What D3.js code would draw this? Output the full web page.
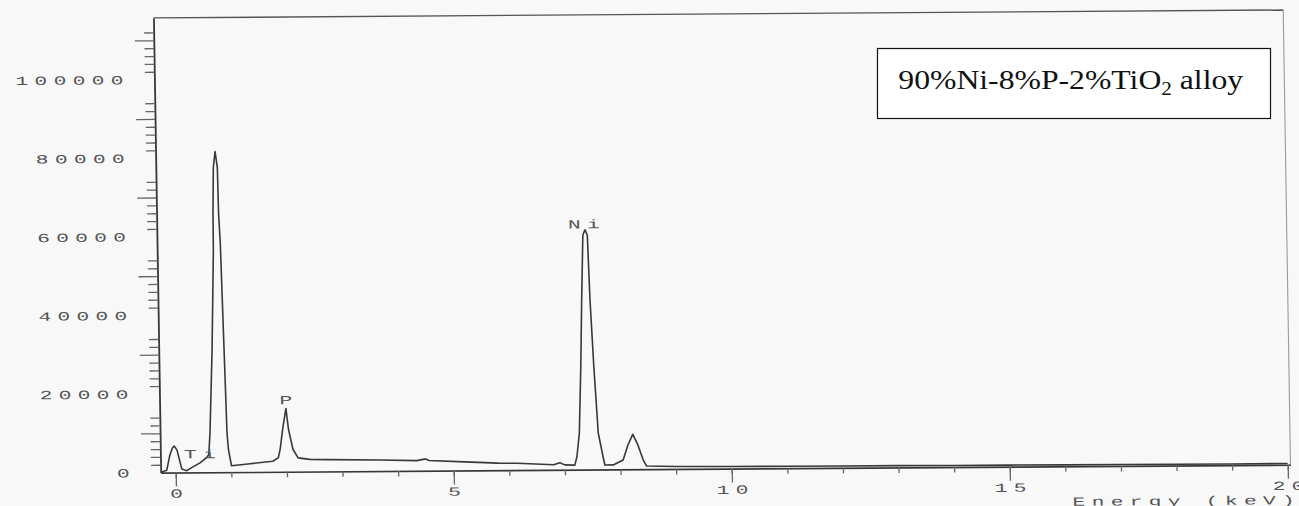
<!DOCTYPE html>
<html>
<head>
<meta charset="utf-8">
<script src="https://cdn.jsdelivr.net/npm/d3@7"></script>
<style>
  html, body { margin: 0; padding: 0; background: #f8f8f8; }
  svg { display: block; }
</style>
</head>
<body>
<svg id="chart" width="1299" height="506"></svg>
<script>
// EDS spectrum of the 90%Ni-8%P-2%TiO2 deposit
const energyKeV = [-0.27, -0.16, -0.10, -0.05, -0.02, 0.03, 0.08, 0.11, 0.20, 0.31, 0.44, 0.56, 0.60,
  0.628, 0.689, 0.741, 0.745, 0.764, 0.80, 0.836, 0.845, 0.868, 0.905, 0.934, 0.955, 1.006,
  1.34, 1.75, 1.85, 1.885, 1.935, 2.00, 2.04, 2.115, 2.205, 2.415, 2.775, 3.67, 4.34, 4.45, 4.50, 4.56,
  5.2, 5.8, 6.14, 6.8, 6.91, 7.0, 7.18, 7.22, 7.27, 7.315, 7.35, 7.39, 7.43, 7.47, 7.50, 7.55, 7.61,
  7.69, 7.72, 7.87, 8.05, 8.14, 8.23, 8.32, 8.41, 8.47, 9, 10, 11, 12, 13, 14, 15, 16, 17, 18, 19, 20];
const counts = [0, 600, 4450, 6300, 6750, 5700, 2700, 900, 450, 1400, 2400, 3700, 4500,
  10000, 31000, 56500, 66000, 77500, 81600, 77500, 66000, 58000, 31000, 10000, 5700, 1600,
  2100, 2700, 3600, 5700, 10800, 16100, 10800, 5700, 3500, 3100, 3000, 2800, 2600, 2900, 3000, 2600,
  2200, 1800, 1750, 1300, 1800, 1250, 1170, 3300, 9300, 26100, 43150, 59700, 61000, 59700, 43150, 26100, 9300,
  3250, 1150, 1150, 2400, 6200, 8900, 6200, 2400, 800, 650, 550, 500, 450, 450, 400, 400, 350, 350, 300, 300, 300];

const peakLabels = ["Ti", "P", "Ni"];
const peakLabelKeV = [0.437, 2.0, 7.41];
const peakLabelCounts = [4600, 18170, 62400];

const xTickLabels = [0, 5, 10, 15, 20];
const xMinorTicks = d3.range(0, 21, 1);
const yTickLabels = [0, 20000, 40000, 60000, 80000, 100000];
const yLongTicks = [10000, 30000, 50000, 70000, 90000, 110000];
const yShortTicks = d3.range(2000, 113000, 2000)
  .filter(v => ![0, 10000, 16000, 18000].includes(v % 20000));

const axisTitle = "Energy (keV)";
const legendMain = "90%Ni-8%P-2%TiO";
const legendSub = "2";
const legendTail = " alloy";

// ---- layout ----
const W = 1299, H = 506;
const svg = d3.select("#chart");
svg.append("rect").attr("width", W).attr("height", H).attr("fill", "#f8f8f8");

const xMin = -0.27, xMax = 20.05, yMax = 115700;
const pxPerKeV = 55.6;
const x = d3.scaleLinear().domain([xMin, xMax]).range([160.7, 160.7 + (xMax - xMin) * pxPerKeV]);
const y = d3.scaleLinear().domain([0, yMax]).range([472.5, 472.5 - yMax * 0.00393]);

// the printed plot sits slightly skewed on the page
const shearX = 0.016, shearY = -0.007;
const plot = svg.append("g")
  .attr("transform", `matrix(1,${shearY},${shearX},1,${-shearX * y(0)},${-shearY * x(0)})`);

const ink = "#383838";
const tickInk = "#666";
const textInk = "#555";
const stretch = 1.7, spacing = 3.7, fontSize = 12.5;

function styleType(sel) {
  sel.attr("font-family", "'Liberation Mono', 'DejaVu Sans Mono', monospace")
    .attr("font-size", fontSize)
    .attr("letter-spacing", spacing)
    .attr("fill", textInk);
}

// frame: top and right edges
plot.append("path")
  .attr("d", d3.line()([[x(xMin), y(yMax)], [x(xMax), y(yMax)]]))
  .attr("stroke", "#555").attr("stroke-width", 1.4).attr("fill", "none");
plot.append("path")
  .attr("d", d3.line()([[x(xMax), y(yMax)], [x(xMax), y(0)]]))
  .attr("stroke", "#9a9a9a").attr("stroke-width", 1.1).attr("fill", "none");

// y axis: short ticks, long ticks, labels
const yAxisG = plot.append("g").attr("transform", `translate(${x(xMin)},0)`);
yAxisG.append("g")
  .call(d3.axisLeft(y).tickValues(yShortTicks).tickSize(9.5).tickSizeOuter(0).tickFormat(""))
  .call(g => g.select(".domain").attr("stroke", ink).attr("stroke-width", 1.8))
  .call(g => g.selectAll(".tick line").attr("stroke", tickInk).attr("stroke-width", 1.3));
yAxisG.append("g")
  .call(d3.axisLeft(y).tickValues(yLongTicks).tickSize(19).tickFormat(""))
  .call(g => g.select(".domain").remove())
  .call(g => g.selectAll(".tick line").attr("stroke", tickInk).attr("stroke-width", 1.3));
yAxisG.append("g")
  .call(d3.axisLeft(y).tickValues(yTickLabels).tickSize(0).tickFormat(d3.format("d")))
  .call(g => g.select(".domain").remove())
  .call(g => g.selectAll(".tick text")
    .call(styleType)
    .attr("text-anchor", "end")
    .attr("x", -31 / stretch + spacing)
    .attr("transform", `scale(${stretch},1)`));

// x axis: minor ticks, major ticks, labels
const xAxisG = plot.append("g").attr("transform", `translate(0,${y(0)})`);
xAxisG.append("g")
  .call(d3.axisBottom(x).tickValues(xMinorTicks).tickSize(5.5).tickSizeOuter(0).tickFormat(""))
  .call(g => g.select(".domain").attr("stroke", ink).attr("stroke-width", 1.6))
  .call(g => g.selectAll(".tick line").attr("stroke", tickInk).attr("stroke-width", 1.3));
xAxisG.append("g")
  .call(d3.axisBottom(x).tickValues(xTickLabels).tickSize(14).tickPadding(3).tickFormat(d3.format("d")))
  .call(g => g.select(".domain").remove())
  .call(g => g.selectAll(".tick line").attr("stroke", tickInk).attr("stroke-width", 1.3))
  .call(g => g.selectAll(".tick text")
    .call(styleType)
    .attr("y", 25.2).attr("dy", null)
    .attr("x", spacing / 2)
    .attr("transform", `scale(${stretch},1)`));

// axis title
plot.append("text")
  .attr("transform", `translate(${x(16.12)},${y(0) + 39.5}) scale(${stretch},1)`)
  .call(styleType)
  .text(axisTitle);

// spectrum trace
const spectrum = energyKeV.map((e, i) => [e, counts[i]]);
plot.append("path")
  .datum(spectrum)
  .attr("fill", "none")
  .attr("stroke", ink)
  .attr("stroke-width", 1.6)
  .attr("stroke-linejoin", "round")
  .attr("d", d3.line().x(d => x(d[0])).y(d => y(d[1])));

// element labels
plot.selectAll("text.peak")
  .data(peakLabels)
  .join("text")
  .attr("class", "peak")
  .attr("transform", (d, i) => `translate(${x(peakLabelKeV[i])},${y(peakLabelCounts[i]) + 4}) scale(${stretch},1)`)
  .attr("text-anchor", "middle")
  .attr("x", spacing / 2)
  .call(styleType)
  .text(d => d);

// legend box
const legend = svg.append("g");
legend.append("rect")
  .attr("x", 877.5).attr("y", 48.5).attr("width", 393).attr("height", 70)
  .attr("fill", "#ffffff").attr("stroke", "#111").attr("stroke-width", 1.2);
const legendText = legend.append("text")
  .attr("font-family", "'Liberation Serif', 'Times New Roman', serif")
  .attr("font-size", 27)
  .attr("fill", "#111");
legendText.append("tspan").text(legendMain);
legendText.append("tspan").attr("font-size", 18).attr("dy", 6).text(legendSub);
legendText.append("tspan").attr("dy", -6).text(legendTail);
const naturalWidth = legendText.node().getComputedTextLength();
legendText.attr("transform", `translate(898.3,89.3) scale(${345 / naturalWidth},1)`);
</script>
</body>
</html>
